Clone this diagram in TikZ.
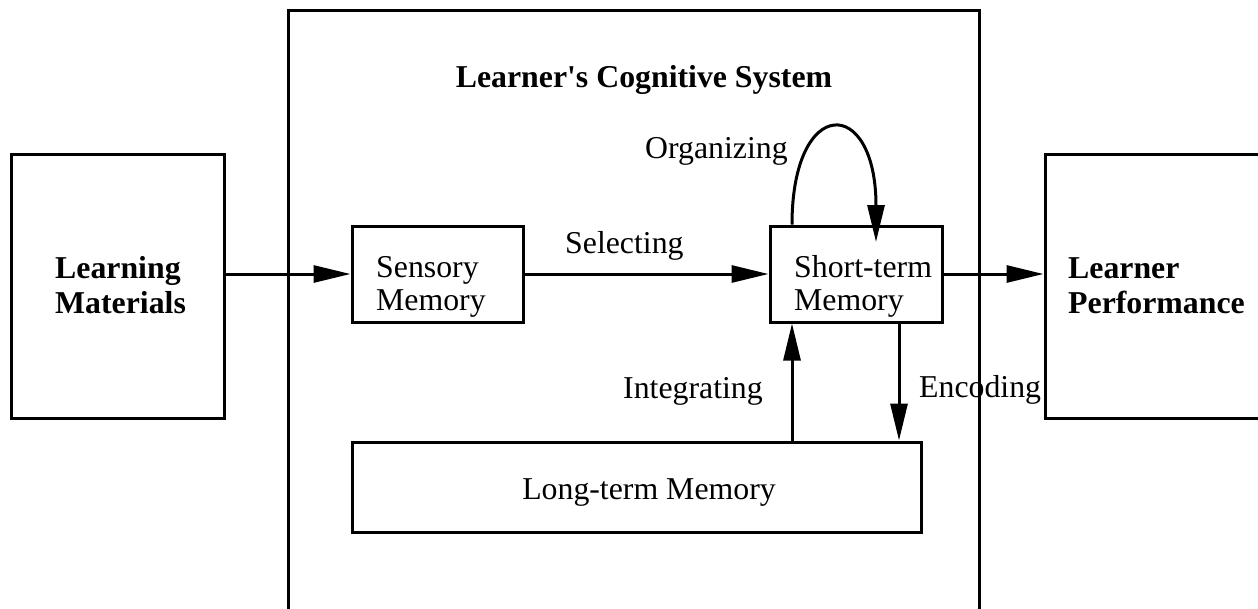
\documentclass[tikz,border=0pt]{standalone}
\usepackage{fontspec}
\setmainfont{Liberation Serif}[Ligatures=TeXOff]
\usetikzlibrary{arrows.meta,calc}
\begin{document}
\begin{tikzpicture}[x=1pt,y=-1pt,
  box/.style={draw=black,line width=3pt,rectangle,inner sep=0pt},
  txt/.style={inner sep=0pt,font=\fontsize{31.8}{34}\selectfont},
  btxt/.style={inner sep=0pt,font=\fontsize{31.8}{34}\selectfont\bfseries},
  arr/.style={line width=3pt,-{Triangle[length=37pt,width=17pt]}}]
\useasboundingbox (0,0) rectangle (1258,608);
\clip (0,0) rectangle (1258,608);
\fill[white] (0,0) rectangle (1258,608);
% boxes
\node[box,minimum width=690.5pt,minimum height=630pt] (sys) at (633.75,325) {};
\node[box,minimum width=213pt,minimum height=264pt] (lm) at (117.5,286) {};
\node[box,minimum width=245pt,minimum height=264pt] (lp) at (1167.5,286) {};
\node[box,minimum width=171pt,minimum height=96pt] (sm) at (437.5,274) {};
\node[box,minimum width=172pt,minimum height=96pt] (stm) at (856,274) {};
\node[box,minimum width=569pt,minimum height=90pt] (ltm) at (636.5,487) {};
% texts
\node[btxt,anchor=base] (title) at (644,87) {Learner's Cognitive System};
\node[btxt,anchor=base west] (lm1) at (55,278) {Learning};
\node[btxt,anchor=base west] (lm2) at (55,313) {Materials};
\node[btxt,anchor=base west] (lp1) at (1068,278) {Learner};
\node[btxt,anchor=base west] (lp2) at (1068,313) {Performance};
\node[txt,anchor=base west] (sm1) at (376,277) {Sensory};
\node[txt,anchor=base west] (sm2) at (376,310) {Memory};
\node[txt,anchor=base west] (stm1) at (794,277) {Short-term};
\node[txt,anchor=base west] (stm2) at (794,310) {Memory};
\node[txt,anchor=base] (ltm1) at (649,499) {Long-term Memory};
\node[txt,anchor=base west] (sel) at (565,253) {Selecting};
\node[txt,anchor=base west] (org) at (645,158) {Organizing};
\node[txt,anchor=base west] (int) at (623,398) {Integrating};
\node[txt,anchor=base west] (enc) at (919,397) {Encoding};
% connectors
\coordinate (ix) at (792,0);
\coordinate (ex) at (899,0);
\coordinate (oend) at (876,242);
\draw[arr] (lm.east |- sm.west) -- (sm.west);
\draw[arr] (sm.east) -- (stm.west);
\draw[arr] (stm.east) -- (stm.east -| lp.west);
\draw[arr] (ltm.north -| ix) -- (stm.south -| ix);
\draw[arr] (stm.south -| ex) -- (ltm.north -| ex);
\draw[arr] (stm.north -| ix) .. controls (792,95) and (876,95) .. (oend);
\end{tikzpicture}
\end{document}
